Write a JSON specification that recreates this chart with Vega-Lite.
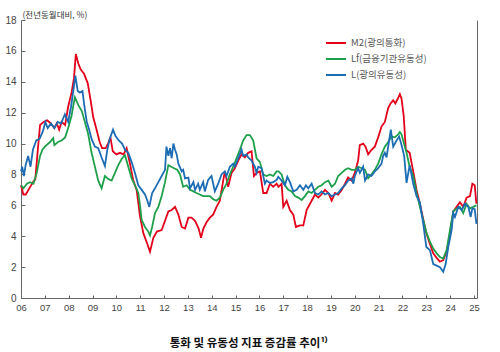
{
"$schema": "https://vega.github.io/schema/vega-lite/v6.json",
"width": 456, "height": 278,
"autosize": "none",
"padding": {"left": 21, "top": 20, "right": 23, "bottom": 54},
"background": "white",
"config": {"view": {"stroke": null}, "font": "Liberation Sans"},
"title": {"text": "통화 및 유동성 지표 증감률 추이¹⁾", "orient": "bottom", "anchor": "middle", "offset": 26, "font": "Noto Sans CJK KR", "fontSize": 11.5, "fontWeight": "bold", "color": "#111"},
"datasets": {
"m2": [
{"t":2006.00,"v":7.3},{"t":2006.10,"v":6.7},{"t":2006.20,"v":6.7},{"t":2006.35,"v":7.1},{"t":2006.50,"v":7.5},{"t":2006.60,"v":7.7},{"t":2006.70,"v":9.5},{"t":2006.80,"v":11.2},{"t":2006.95,"v":11.4},{"t":2007.10,"v":11.5},{"t":2007.25,"v":11.3},{"t":2007.40,"v":11.0},{"t":2007.50,"v":11.3},{"t":2007.60,"v":10.9},{"t":2007.70,"v":11.4},{"t":2007.85,"v":11.2},{"t":2007.98,"v":12.4},{"t":2008.12,"v":13.3},{"t":2008.22,"v":14.2},{"t":2008.30,"v":15.8},{"t":2008.40,"v":15.2},{"t":2008.50,"v":14.8},{"t":2008.65,"v":14.5},{"t":2008.80,"v":13.9},{"t":2008.92,"v":12.8},{"t":2009.03,"v":11.7},{"t":2009.17,"v":10.9},{"t":2009.30,"v":10.1},{"t":2009.40,"v":9.7},{"t":2009.55,"v":9.7},{"t":2009.65,"v":10.0},{"t":2009.75,"v":10.4},{"t":2009.85,"v":9.5},{"t":2010.00,"v":9.3},{"t":2010.15,"v":9.4},{"t":2010.30,"v":9.3},{"t":2010.43,"v":9.7},{"t":2010.57,"v":8.7},{"t":2010.71,"v":7.6},{"t":2010.85,"v":7.0},{"t":2010.99,"v":5.3},{"t":2011.13,"v":4.2},{"t":2011.30,"v":3.5},{"t":2011.41,"v":3.0},{"t":2011.55,"v":3.9},{"t":2011.70,"v":4.3},{"t":2011.90,"v":4.4},{"t":2012.04,"v":5.0},{"t":2012.18,"v":5.6},{"t":2012.32,"v":5.7},{"t":2012.46,"v":5.9},{"t":2012.60,"v":5.4},{"t":2012.74,"v":4.6},{"t":2012.88,"v":4.5},{"t":2013.02,"v":5.2},{"t":2013.15,"v":5.2},{"t":2013.30,"v":5.0},{"t":2013.45,"v":4.5},{"t":2013.55,"v":3.9},{"t":2013.65,"v":4.5},{"t":2013.78,"v":4.9},{"t":2013.92,"v":5.2},{"t":2014.06,"v":5.4},{"t":2014.20,"v":5.9},{"t":2014.34,"v":6.3},{"t":2014.48,"v":7.6},{"t":2014.55,"v":8.2},{"t":2014.69,"v":7.2},{"t":2014.83,"v":8.1},{"t":2014.97,"v":8.4},{"t":2015.11,"v":8.9},{"t":2015.25,"v":9.3},{"t":2015.39,"v":9.1},{"t":2015.53,"v":9.4},{"t":2015.67,"v":9.5},{"t":2015.77,"v":7.9},{"t":2015.88,"v":8.1},{"t":2016.02,"v":8.2},{"t":2016.16,"v":6.8},{"t":2016.30,"v":6.8},{"t":2016.44,"v":7.4},{"t":2016.58,"v":7.2},{"t":2016.72,"v":7.4},{"t":2016.80,"v":7.2},{"t":2016.93,"v":7.4},{"t":2017.00,"v":5.9},{"t":2017.14,"v":6.3},{"t":2017.28,"v":5.7},{"t":2017.42,"v":5.4},{"t":2017.53,"v":4.6},{"t":2017.70,"v":4.7},{"t":2017.84,"v":4.7},{"t":2017.98,"v":5.7},{"t":2018.12,"v":6.1},{"t":2018.33,"v":6.7},{"t":2018.47,"v":6.5},{"t":2018.60,"v":6.7},{"t":2018.75,"v":7.0},{"t":2018.89,"v":6.8},{"t":2019.03,"v":6.3},{"t":2019.17,"v":6.8},{"t":2019.30,"v":6.7},{"t":2019.45,"v":7.0},{"t":2019.59,"v":7.4},{"t":2019.72,"v":7.8},{"t":2019.87,"v":7.6},{"t":2020.00,"v":8.1},{"t":2020.14,"v":8.9},{"t":2020.21,"v":9.9},{"t":2020.35,"v":10.0},{"t":2020.45,"v":9.8},{"t":2020.56,"v":9.3},{"t":2020.70,"v":9.6},{"t":2020.84,"v":9.8},{"t":2020.98,"v":10.4},{"t":2021.12,"v":11.1},{"t":2021.26,"v":11.4},{"t":2021.40,"v":12.3},{"t":2021.50,"v":12.6},{"t":2021.61,"v":12.8},{"t":2021.70,"v":12.6},{"t":2021.80,"v":12.9},{"t":2021.89,"v":13.2},{"t":2021.96,"v":12.9},{"t":2022.05,"v":11.8},{"t":2022.14,"v":9.6},{"t":2022.30,"v":9.4},{"t":2022.45,"v":8.2},{"t":2022.59,"v":7.0},{"t":2022.73,"v":6.1},{"t":2022.87,"v":5.1},{"t":2023.00,"v":4.2},{"t":2023.15,"v":3.5},{"t":2023.29,"v":2.9},{"t":2023.43,"v":2.6},{"t":2023.57,"v":2.35},{"t":2023.71,"v":2.45},{"t":2023.85,"v":3.0},{"t":2023.99,"v":4.1},{"t":2024.13,"v":5.6},{"t":2024.27,"v":5.9},{"t":2024.41,"v":6.2},{"t":2024.55,"v":5.9},{"t":2024.69,"v":6.5},{"t":2024.83,"v":6.6},{"t":2024.93,"v":7.4},{"t":2025.03,"v":7.3},{"t":2025.10,"v":6.1}
],
"lf": [
{"t":2006.00,"v":7.3},{"t":2006.10,"v":7.1},{"t":2006.25,"v":7.4},{"t":2006.38,"v":7.5},{"t":2006.52,"v":7.4},{"t":2006.66,"v":8.1},{"t":2006.80,"v":9.2},{"t":2006.90,"v":9.6},{"t":2007.00,"v":9.8},{"t":2007.22,"v":10.1},{"t":2007.35,"v":10.35},{"t":2007.40,"v":9.9},{"t":2007.55,"v":10.1},{"t":2007.70,"v":10.2},{"t":2007.85,"v":10.4},{"t":2007.98,"v":11.0},{"t":2008.12,"v":11.8},{"t":2008.20,"v":12.5},{"t":2008.26,"v":13.0},{"t":2008.40,"v":12.5},{"t":2008.55,"v":12.1},{"t":2008.68,"v":11.4},{"t":2008.82,"v":10.6},{"t":2008.96,"v":9.4},{"t":2009.10,"v":8.5},{"t":2009.24,"v":7.6},{"t":2009.38,"v":7.1},{"t":2009.52,"v":7.9},{"t":2009.66,"v":7.7},{"t":2009.80,"v":7.6},{"t":2009.94,"v":8.1},{"t":2010.08,"v":8.6},{"t":2010.22,"v":9.0},{"t":2010.36,"v":9.25},{"t":2010.50,"v":8.5},{"t":2010.64,"v":7.75},{"t":2010.78,"v":7.3},{"t":2010.92,"v":6.8},{"t":2011.00,"v":5.9},{"t":2011.06,"v":5.05},{"t":2011.20,"v":4.6},{"t":2011.34,"v":4.3},{"t":2011.41,"v":4.05},{"t":2011.50,"v":4.6},{"t":2011.62,"v":5.5},{"t":2011.76,"v":5.9},{"t":2011.90,"v":6.6},{"t":2012.04,"v":7.5},{"t":2012.18,"v":8.6},{"t":2012.30,"v":8.5},{"t":2012.42,"v":8.4},{"t":2012.55,"v":8.3},{"t":2012.67,"v":8.0},{"t":2012.80,"v":7.2},{"t":2012.95,"v":7.3},{"t":2013.09,"v":7.0},{"t":2013.23,"v":6.9},{"t":2013.36,"v":6.8},{"t":2013.50,"v":6.7},{"t":2013.64,"v":6.6},{"t":2013.78,"v":6.6},{"t":2013.92,"v":6.6},{"t":2014.06,"v":6.4},{"t":2014.20,"v":6.3},{"t":2014.34,"v":6.5},{"t":2014.48,"v":7.0},{"t":2014.62,"v":7.4},{"t":2014.76,"v":8.0},{"t":2014.90,"v":8.5},{"t":2015.04,"v":9.05},{"t":2015.18,"v":9.6},{"t":2015.32,"v":10.2},{"t":2015.46,"v":10.55},{"t":2015.60,"v":10.55},{"t":2015.74,"v":10.2},{"t":2015.88,"v":9.05},{"t":2016.02,"v":8.8},{"t":2016.16,"v":8.0},{"t":2016.30,"v":7.9},{"t":2016.44,"v":8.0},{"t":2016.58,"v":7.9},{"t":2016.72,"v":8.2},{"t":2016.80,"v":8.2},{"t":2016.93,"v":8.0},{"t":2017.07,"v":7.3},{"t":2017.21,"v":7.0},{"t":2017.35,"v":6.9},{"t":2017.49,"v":6.6},{"t":2017.63,"v":6.5},{"t":2017.77,"v":6.35},{"t":2017.91,"v":6.6},{"t":2018.05,"v":6.9},{"t":2018.19,"v":6.8},{"t":2018.33,"v":7.0},{"t":2018.47,"v":7.2},{"t":2018.61,"v":7.3},{"t":2018.75,"v":7.5},{"t":2018.89,"v":7.6},{"t":2019.03,"v":7.2},{"t":2019.17,"v":7.4},{"t":2019.30,"v":7.9},{"t":2019.45,"v":8.1},{"t":2019.59,"v":8.3},{"t":2019.72,"v":8.4},{"t":2019.87,"v":8.3},{"t":2020.00,"v":8.3},{"t":2020.14,"v":8.5},{"t":2020.29,"v":8.4},{"t":2020.43,"v":8.3},{"t":2020.56,"v":7.75},{"t":2020.70,"v":8.0},{"t":2020.84,"v":8.3},{"t":2020.98,"v":8.7},{"t":2021.12,"v":9.3},{"t":2021.26,"v":9.8},{"t":2021.40,"v":10.1},{"t":2021.54,"v":10.45},{"t":2021.68,"v":10.4},{"t":2021.82,"v":10.6},{"t":2021.89,"v":10.75},{"t":2021.96,"v":10.6},{"t":2022.03,"v":10.2},{"t":2022.17,"v":9.4},{"t":2022.30,"v":8.5},{"t":2022.45,"v":7.9},{"t":2022.59,"v":6.8},{"t":2022.73,"v":5.9},{"t":2022.87,"v":5.05},{"t":2023.01,"v":4.2},{"t":2023.15,"v":3.65},{"t":2023.29,"v":3.2},{"t":2023.43,"v":2.9},{"t":2023.57,"v":2.65},{"t":2023.71,"v":2.55},{"t":2023.85,"v":3.1},{"t":2023.99,"v":4.4},{"t":2024.13,"v":5.6},{"t":2024.27,"v":5.8},{"t":2024.41,"v":5.9},{"t":2024.55,"v":5.5},{"t":2024.69,"v":6.1},{"t":2024.83,"v":5.8},{"t":2024.97,"v":5.9},{"t":2025.10,"v":6.0}
],
"l": [
{"t":2006.00,"v":8.2},{"t":2006.05,"v":8.5},{"t":2006.12,"v":7.9},{"t":2006.20,"v":8.65},{"t":2006.30,"v":9.2},{"t":2006.40,"v":8.5},{"t":2006.50,"v":9.6},{"t":2006.64,"v":10.2},{"t":2006.78,"v":10.3},{"t":2006.92,"v":10.8},{"t":2007.02,"v":11.4},{"t":2007.12,"v":11.0},{"t":2007.26,"v":11.3},{"t":2007.40,"v":11.0},{"t":2007.54,"v":11.4},{"t":2007.68,"v":11.3},{"t":2007.84,"v":11.9},{"t":2007.98,"v":11.4},{"t":2008.10,"v":12.4},{"t":2008.20,"v":13.5},{"t":2008.28,"v":14.4},{"t":2008.38,"v":13.4},{"t":2008.47,"v":13.3},{"t":2008.58,"v":13.4},{"t":2008.66,"v":12.4},{"t":2008.76,"v":11.4},{"t":2008.86,"v":10.9},{"t":2008.96,"v":10.3},{"t":2009.10,"v":9.8},{"t":2009.24,"v":9.7},{"t":2009.38,"v":9.1},{"t":2009.52,"v":8.55},{"t":2009.62,"v":9.6},{"t":2009.72,"v":10.3},{"t":2009.86,"v":10.9},{"t":2009.96,"v":10.5},{"t":2010.10,"v":10.2},{"t":2010.24,"v":10.0},{"t":2010.36,"v":9.6},{"t":2010.50,"v":9.4},{"t":2010.64,"v":8.8},{"t":2010.78,"v":8.1},{"t":2010.92,"v":7.3},{"t":2011.06,"v":7.0},{"t":2011.20,"v":6.7},{"t":2011.30,"v":6.3},{"t":2011.38,"v":5.9},{"t":2011.50,"v":6.8},{"t":2011.62,"v":7.1},{"t":2011.76,"v":7.5},{"t":2011.90,"v":7.9},{"t":2012.04,"v":8.3},{"t":2012.10,"v":9.8},{"t":2012.18,"v":9.2},{"t":2012.25,"v":9.7},{"t":2012.32,"v":9.05},{"t":2012.39,"v":10.0},{"t":2012.46,"v":9.6},{"t":2012.53,"v":9.3},{"t":2012.60,"v":8.7},{"t":2012.74,"v":8.2},{"t":2012.80,"v":8.3},{"t":2012.88,"v":7.75},{"t":2013.02,"v":7.8},{"t":2013.09,"v":7.1},{"t":2013.23,"v":7.5},{"t":2013.30,"v":7.0},{"t":2013.43,"v":7.4},{"t":2013.50,"v":7.0},{"t":2013.64,"v":7.5},{"t":2013.71,"v":6.9},{"t":2013.85,"v":7.65},{"t":2013.99,"v":7.9},{"t":2014.06,"v":7.4},{"t":2014.13,"v":6.9},{"t":2014.27,"v":7.4},{"t":2014.41,"v":8.0},{"t":2014.55,"v":8.2},{"t":2014.62,"v":7.9},{"t":2014.76,"v":8.5},{"t":2014.90,"v":8.7},{"t":2014.97,"v":8.5},{"t":2015.11,"v":9.05},{"t":2015.25,"v":9.6},{"t":2015.32,"v":9.2},{"t":2015.46,"v":9.3},{"t":2015.53,"v":9.1},{"t":2015.67,"v":8.9},{"t":2015.81,"v":8.5},{"t":2015.88,"v":8.1},{"t":2015.95,"v":8.5},{"t":2016.09,"v":8.4},{"t":2016.23,"v":7.4},{"t":2016.30,"v":7.6},{"t":2016.44,"v":7.45},{"t":2016.58,"v":7.5},{"t":2016.72,"v":7.65},{"t":2016.79,"v":7.85},{"t":2016.93,"v":7.6},{"t":2017.07,"v":7.3},{"t":2017.17,"v":7.85},{"t":2017.28,"v":7.5},{"t":2017.42,"v":6.9},{"t":2017.56,"v":7.0},{"t":2017.70,"v":7.3},{"t":2017.84,"v":7.0},{"t":2017.95,"v":7.3},{"t":2018.05,"v":7.1},{"t":2018.19,"v":7.4},{"t":2018.33,"v":6.8},{"t":2018.47,"v":6.7},{"t":2018.61,"v":6.9},{"t":2018.75,"v":6.7},{"t":2018.89,"v":6.8},{"t":2019.03,"v":6.6},{"t":2019.17,"v":6.7},{"t":2019.30,"v":6.8},{"t":2019.45,"v":7.1},{"t":2019.59,"v":7.3},{"t":2019.72,"v":7.6},{"t":2019.87,"v":7.75},{"t":2019.94,"v":7.4},{"t":2020.00,"v":7.9},{"t":2020.14,"v":8.4},{"t":2020.21,"v":8.1},{"t":2020.35,"v":8.5},{"t":2020.43,"v":7.6},{"t":2020.56,"v":8.0},{"t":2020.70,"v":7.9},{"t":2020.84,"v":8.2},{"t":2020.98,"v":8.4},{"t":2021.12,"v":8.7},{"t":2021.19,"v":9.2},{"t":2021.26,"v":9.4},{"t":2021.33,"v":9.1},{"t":2021.40,"v":9.8},{"t":2021.51,"v":10.9},{"t":2021.61,"v":9.8},{"t":2021.75,"v":10.2},{"t":2021.86,"v":10.45},{"t":2021.96,"v":9.9},{"t":2022.07,"v":9.2},{"t":2022.17,"v":7.45},{"t":2022.30,"v":8.6},{"t":2022.45,"v":7.4},{"t":2022.59,"v":6.6},{"t":2022.73,"v":6.2},{"t":2022.87,"v":4.8},{"t":2023.00,"v":3.3},{"t":2023.15,"v":3.1},{"t":2023.29,"v":2.2},{"t":2023.43,"v":2.1},{"t":2023.57,"v":2.0},{"t":2023.71,"v":1.7},{"t":2023.81,"v":2.2},{"t":2023.92,"v":3.3},{"t":2024.06,"v":4.4},{"t":2024.13,"v":5.5},{"t":2024.20,"v":5.25},{"t":2024.34,"v":5.9},{"t":2024.48,"v":5.7},{"t":2024.62,"v":6.1},{"t":2024.76,"v":5.9},{"t":2024.86,"v":5.25},{"t":2024.93,"v":5.8},{"t":2025.03,"v":5.75},{"t":2025.10,"v":4.8}
]
},
"encoding": {
  "x": {"field": "t", "type": "quantitative",
    "scale": {"domain": [2006, 2025.125], "nice": false, "zero": false},
    "axis": {"title": null, "grid": false, "values": [2006,2007,2008,2009,2010,2011,2012,2013,2014,2015,2016,2017,2018,2019,2020,2021,2022,2023,2024,2025],
      "labelExpr": "format(datum.value % 100, '02d')", "labelFlush": false, "labelOverlap": false, "labelBound": false,
      "tickSize": -3, "tickColor": "#666", "domainColor": "#666", "labelColor": "#444", "labelFontSize": 9.5, "labelPadding": 7}}
},
"layer": [
  {"data": {"name": "m2"}, "mark": {"type": "line", "strokeWidth": 1.8},
   "encoding": {
    "y": {"field": "v", "type": "quantitative",
      "scale": {"domain": [0, 18], "nice": false, "zero": true},
      "axis": {"values": [0,2,4,6,8,10,12,14,16,18], "grid": false, "tickSize": -4, "tickColor": "#666", "domainColor": "#666",
        "labelColor": "#444", "labelFontSize": 10, "labelPadding": 9,
        "title": "(전년동월대비, %)", "titleAngle": 0, "titleAlign": "left", "titleBaseline": "bottom", "titleX": 1, "titleY": -1,
        "titleFont": "Noto Sans CJK KR", "titleFontSize": 8.5, "titleFontWeight": "normal", "titleColor": "#333"}},
    "color": {"datum": "M2", "type": "nominal",
     "scale": {"domain": ["M2", "Lf", "L"], "range": ["#e3001b", "#1ea04b", "#1c6db4"]},
     "legend": {"orient": "none", "legendX": 304, "legendY": 12, "title": null, "symbolType": "stroke", "symbolSize": 400, "symbolStrokeWidth": 2,
       "labelFont": "Noto Sans CJK KR", "labelFontSize": 9.5, "labelColor": "#555", "labelOffset": 4, "rowPadding": 0, "padding": 0,
       "labelExpr": "datum.label == 'M2' ? 'M2(광의통화)' : datum.label == 'Lf' ? 'Lf(금융기관유동성)' : 'L(광의유동성)'"}}}},
  {"data": {"name": "lf"}, "mark": {"type": "line", "strokeWidth": 1.8},
   "encoding": {"y": {"field": "v", "type": "quantitative", "axis": null}, "color": {"datum": "Lf", "type": "nominal"}}},
  {"data": {"name": "l"}, "mark": {"type": "line", "strokeWidth": 1.8},
   "encoding": {"y": {"field": "v", "type": "quantitative", "axis": null}, "color": {"datum": "L", "type": "nominal"}}},
  {"data": {"values": [{"r": 0}]}, "mark": {"type": "rule", "opacity": 0},
   "encoding": {"x": null, "y": {"field": "r", "type": "quantitative",
     "axis": {"orient": "right", "labels": false, "ticks": false, "title": null, "grid": false, "domainColor": "#666"}}}}
],
"resolve": {"axis": {"y": "independent"}}
}
